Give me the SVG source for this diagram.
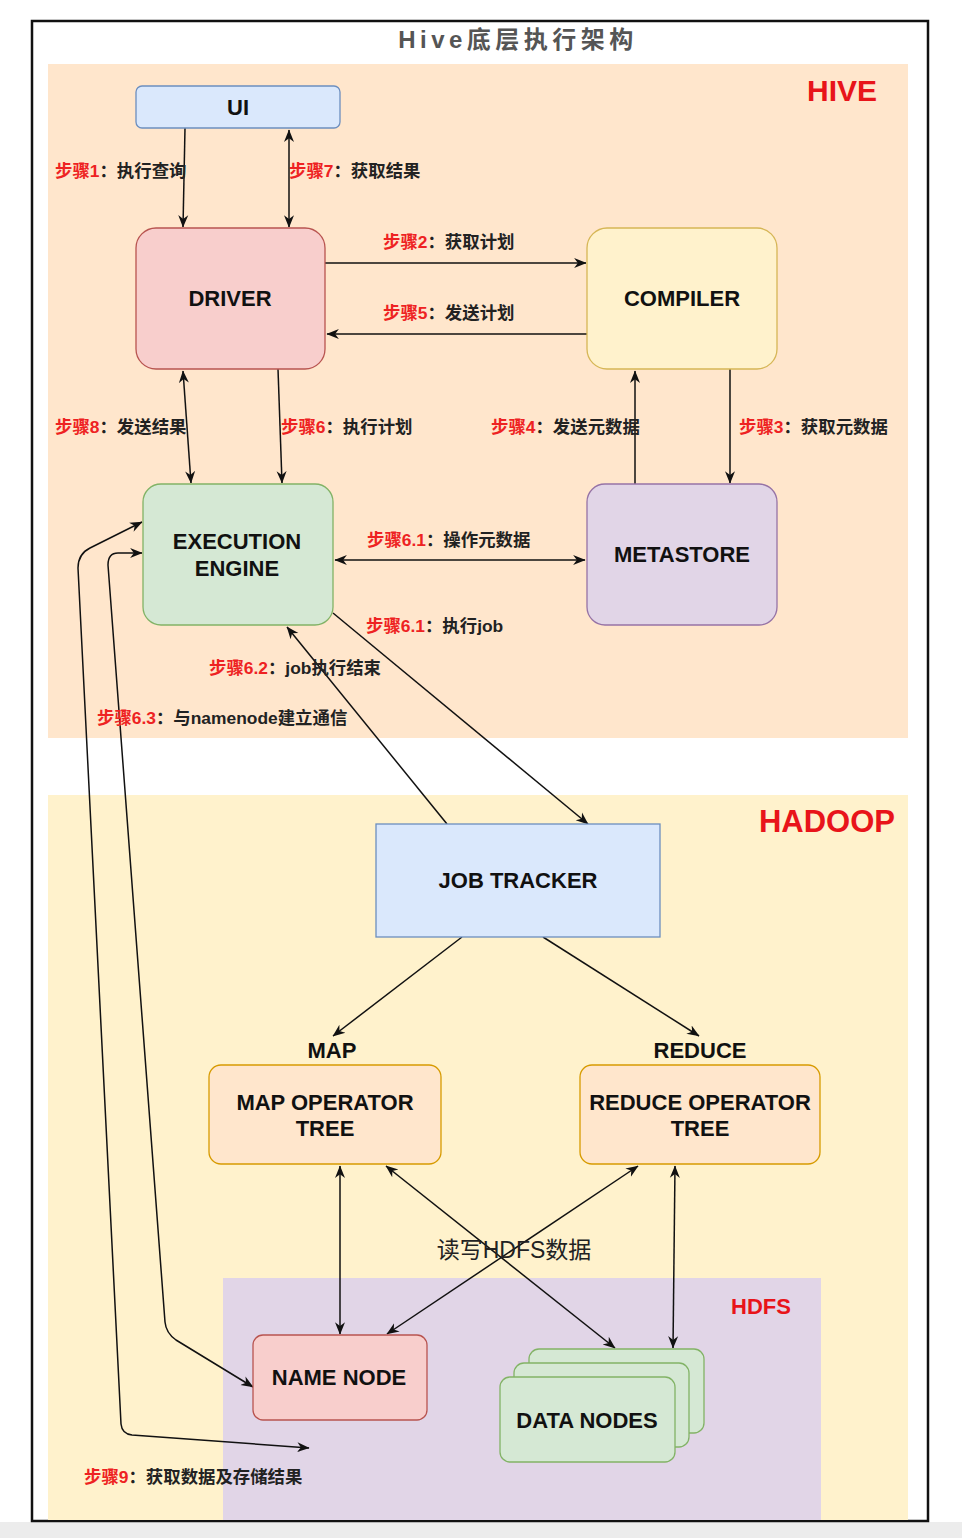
<svg xmlns="http://www.w3.org/2000/svg" width="962" height="1538" viewBox="0 0 962 1538">
<defs>
<marker id="arr" viewBox="0 0 10 10" refX="9.5" refY="5" markerWidth="12.5" markerHeight="12.5" markerUnits="userSpaceOnUse" orient="auto-start-reverse">
<path d="M0,1 L10,5 L0,9 L3,5 z" fill="#111"/>
</marker>
<style>
.t{font-family:"Liberation Sans","Noto Sans CJK SC",sans-serif}
.nt{font-family:"Liberation Sans","Noto Sans CJK SC",sans-serif;font-size:22px;font-weight:bold;text-anchor:middle;fill:#111}
.lbl{font-family:"Liberation Sans","Noto Sans CJK SC",sans-serif;font-size:17.4px;font-weight:bold;fill:#222}
.r{fill:#ee2222}
.sec{font-family:"Liberation Sans",sans-serif;font-weight:bold;fill:#e8141a}
.e{fill:none;stroke:#111;stroke-width:1.5;marker-end:url(#arr)}
.b{marker-start:url(#arr)}
</style>
</defs>
<rect x="0" y="0" width="962" height="1538" fill="#ffffff"/>
<rect x="0" y="1522" width="962" height="16" fill="#ececec"/>
<rect x="32" y="21" width="896" height="1500" fill="#ffffff" stroke="#111" stroke-width="2.5"/>
<text class="t" x="518" y="48" text-anchor="middle" font-size="24" font-weight="bold" letter-spacing="4.5" fill="#555">Hive底层执行架构</text>

<g id="hive-panel">
<rect x="48" y="64" width="860" height="674" fill="#ffe6cc"/>
<text class="sec" x="842" y="101" font-size="30" text-anchor="middle">HIVE</text>
</g>
<g id="hadoop-panel">
<rect x="48" y="795" width="860" height="725" fill="#fff2cc"/>
<text class="sec" x="827" y="832" font-size="31" text-anchor="middle">HADOOP</text>
</g>
<g id="hdfs-panel">
<rect x="223" y="1278" width="598" height="242" fill="#e1d5e7"/>
<text class="sec" x="761" y="1314" font-size="22" text-anchor="middle">HDFS</text>
</g>

<g id="connectors">
<path class="e" d="M185 128 L183 227"/>
<path class="e b" d="M289 130 L289 227"/>
<path class="e" d="M325 263 L586 263"/>
<path class="e" d="M587 334 L327 334"/>
<path class="e" d="M730 369 L730 483"/>
<path class="e" d="M635 484 L635 371"/>
<path class="e b" d="M183 371 L191 483"/>
<path class="e" d="M278 369 L282 483"/>
<path class="e b" d="M335 560 L585 560"/>
<path class="e" d="M333 613 L588 824"/>
<path class="e" d="M447 824 L287 627"/>
<path class="e" d="M462 937 L333 1036"/>
<path class="e" d="M543 937 L699 1036"/>
<path class="e b" d="M340 1166 L340 1334"/>
<path class="e b" d="M386 1166 L615 1348"/>
<path class="e b" d="M638 1166 L387 1334"/>
<path class="e b" d="M675 1166 L673 1348"/>
<path class="e b" d="M142 522 L90 548 Q78 554 78 568 L121 1424 Q122 1434 132 1435 L309 1448"/>
<path class="e b" d="M142 553 L118 553 Q108 553 108 565 L165 1322 Q166 1333 176 1340 L253 1387"/>
</g>

<g id="ui">
<rect x="136" y="86" width="204" height="42" rx="6" fill="#dae8fc" stroke="#6c8ebf" stroke-width="1.3"/>
<text class="nt" x="238" y="115">UI</text>
</g>
<g id="driver">
<rect x="136" y="228" width="189" height="141" rx="20" fill="#f8cecc" stroke="#b85450" stroke-width="1.3"/>
<text class="nt" x="230" y="306">DRIVER</text>
</g>
<g id="compiler">
<rect x="587" y="228" width="190" height="141" rx="20" fill="#fff2cc" stroke="#d6b656" stroke-width="1.3"/>
<text class="nt" x="682" y="306">COMPILER</text>
</g>
<g id="execution-engine">
<rect x="143" y="484" width="190" height="141" rx="18" fill="#d5e8d4" stroke="#82b366" stroke-width="1.3"/>
<text class="nt" x="237" y="549">EXECUTION</text>
<text class="nt" x="237" y="576">ENGINE</text>
</g>
<g id="metastore">
<rect x="587" y="484" width="190" height="141" rx="18" fill="#e1d5e7" stroke="#9673a6" stroke-width="1.3"/>
<text class="nt" x="682" y="562">METASTORE</text>
</g>
<g id="job-tracker">
<rect x="376" y="824" width="284" height="113" fill="#dae8fc" stroke="#6c8ebf" stroke-width="1.3"/>
<text class="nt" x="518" y="888">JOB TRACKER</text>
</g>
<g id="map">
<text class="nt" x="332" y="1058" font-size="21">MAP</text>
<rect x="209" y="1065" width="232" height="99" rx="12" fill="#ffe6cc" stroke="#d79b00" stroke-width="1.3"/>
<text class="nt" x="325" y="1110">MAP OPERATOR</text>
<text class="nt" x="325" y="1136">TREE</text>
</g>
<g id="reduce">
<text class="nt" x="700" y="1058" font-size="21">REDUCE</text>
<rect x="580" y="1065" width="240" height="99" rx="12" fill="#ffe6cc" stroke="#d79b00" stroke-width="1.3"/>
<text class="nt" x="700" y="1110">REDUCE OPERATOR</text>
<text class="nt" x="700" y="1136">TREE</text>
</g>
<g id="name-node">
<rect x="253" y="1335" width="174" height="85" rx="10" fill="#f8cecc" stroke="#b85450" stroke-width="1.3"/>
<text class="nt" x="339" y="1385">NAME NODE</text>
</g>
<g id="data-nodes">
<rect x="529" y="1349" width="175" height="84" rx="10" fill="#d5e8d4" stroke="#82b366" stroke-width="1.3"/>
<rect x="514" y="1363" width="175" height="84" rx="10" fill="#d5e8d4" stroke="#82b366" stroke-width="1.3"/>
<rect x="500" y="1377" width="175" height="85" rx="10" fill="#d5e8d4" stroke="#82b366" stroke-width="1.3"/>
<text class="nt" x="587" y="1428">DATA NODES</text>
</g>

<g id="labels">
<text class="lbl" x="55" y="177"><tspan class="r">步骤1</tspan>：执行查询</text>
<text class="lbl" x="289" y="177"><tspan class="r">步骤7</tspan>：获取结果</text>
<text class="lbl" x="383" y="248"><tspan class="r">步骤2</tspan>：获取计划</text>
<text class="lbl" x="383" y="319"><tspan class="r">步骤5</tspan>：发送计划</text>
<text class="lbl" x="55" y="433"><tspan class="r">步骤8</tspan>：发送结果</text>
<text class="lbl" x="281" y="433"><tspan class="r">步骤6</tspan>：执行计划</text>
<text class="lbl" x="491" y="433"><tspan class="r">步骤4</tspan>：发送元数据</text>
<text class="lbl" x="739" y="433"><tspan class="r">步骤3</tspan>：获取元数据</text>
<text class="lbl" x="367" y="546"><tspan class="r">步骤6.1</tspan>：操作元数据</text>
<text class="lbl" x="366" y="632"><tspan class="r">步骤6.1</tspan>：执行job</text>
<text class="lbl" x="209" y="674"><tspan class="r">步骤6.2</tspan>：job执行结束</text>
<text class="lbl" x="97" y="724"><tspan class="r">步骤6.3</tspan>：与namenode建立通信</text>
<text class="t" x="514" y="1258" font-size="23" text-anchor="middle" fill="#222">读写HDFS数据</text>
<text class="lbl" x="84" y="1483"><tspan class="r">步骤9</tspan>：获取数据及存储结果</text>
</g>
</svg>
